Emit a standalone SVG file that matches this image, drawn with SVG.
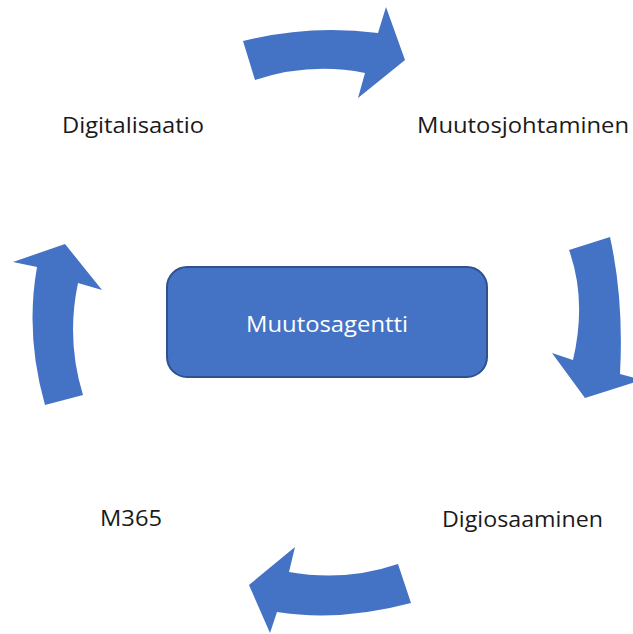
<svg xmlns="http://www.w3.org/2000/svg" width="633" height="634" viewBox="0 0 633 634">
<style>
.arrow{fill:#4472C4;stroke:none}
.lbl{font-family:"Open Sans","Liberation Sans",sans-serif;font-size:22px;fill:#1a1a1a}
.box{fill:#4472C4;stroke:#2F528F;stroke-width:2}
.boxt{font-family:"Open Sans","Liberation Sans",sans-serif;font-size:22px;fill:#ffffff}
</style>
<rect width="633" height="634" fill="#ffffff"/>
<g id="connectors">
<path class="arrow" d="M243,41 Q310,24 378,33 L386,7 L405,60 L358,98 L365,73 Q310,62 255,80 Z"/>
<path class="arrow" d="M569,250 Q587,300 573,360 L552,353 L585,398 L642,380 L620,374 Q624,300 610,237 Z"/>
<path class="arrow" d="M398,564 Q345,582 289,572 L295,547 L249,585 L270,633 L277,612 Q340,622 411,603 Z"/>
<path class="arrow" d="M45,405 Q25,335 37,267 L13,262 L65,244 L102,290 L78,283 Q66,340 83,395 Z"/>
</g>
<g id="center">
<rect class="box" x="167" y="267" width="320" height="110" rx="20" ry="20"/>
<text class="boxt" x="246" y="332" textLength="162" lengthAdjust="spacingAndGlyphs">Muutosagentti</text>
</g>
<g id="digitalisaatio"><text class="lbl" x="62" y="133" textLength="142" lengthAdjust="spacingAndGlyphs">Digitalisaatio</text></g>
<g id="muutosjohtaminen"><text class="lbl" x="417" y="133" textLength="212" lengthAdjust="spacingAndGlyphs">Muutosjohtaminen</text></g>
<g id="m365"><text class="lbl" x="100" y="526" textLength="62" lengthAdjust="spacingAndGlyphs">M365</text></g>
<g id="digiosaaminen"><text class="lbl" x="442" y="527" textLength="161" lengthAdjust="spacingAndGlyphs">Digiosaaminen</text></g>
</svg>
